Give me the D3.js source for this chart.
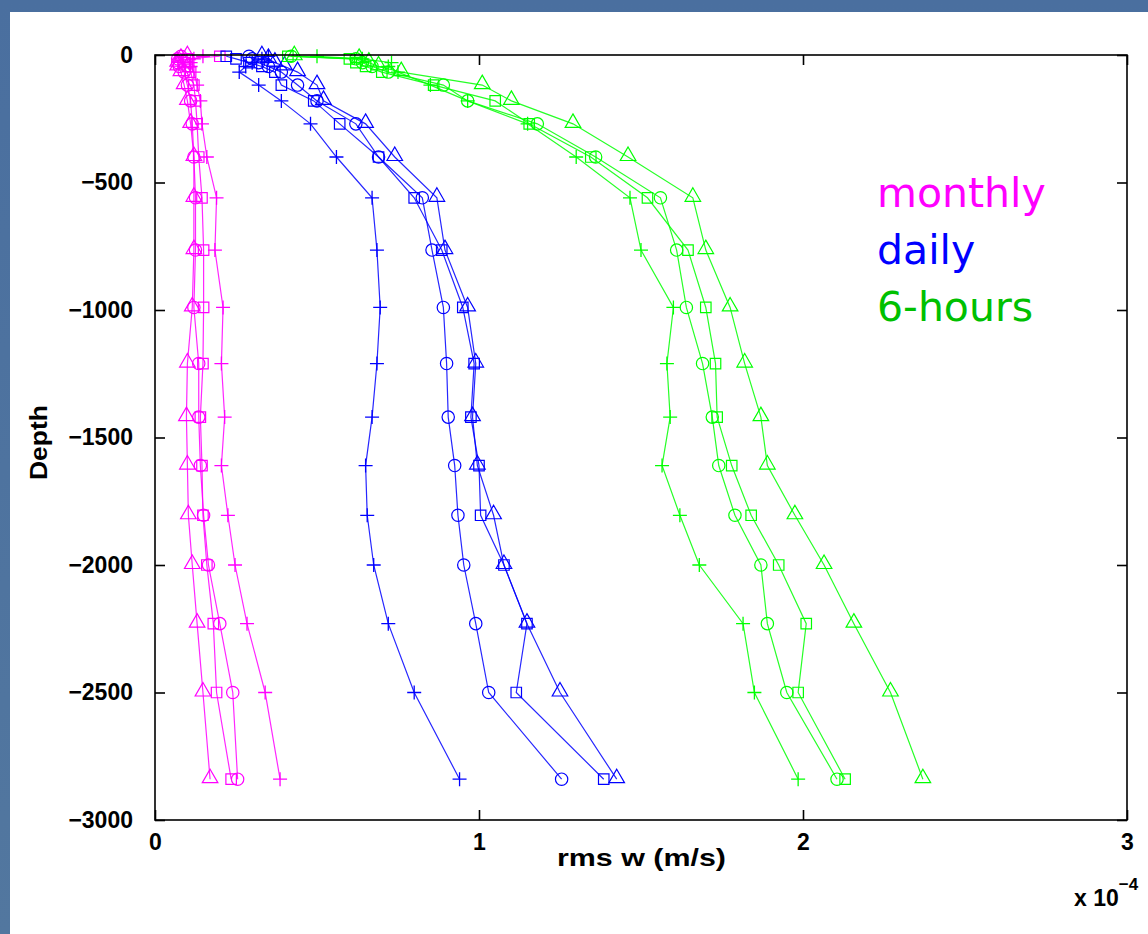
<!DOCTYPE html>
<html>
<head>
<meta charset="utf-8">
<script src="https://cdn.jsdelivr.net/npm/d3@7"></script>
<style>
  html, body { margin: 0; padding: 0; background: #4d70a0; }
  svg { display: block; }
</style>
</head>
<body>
<script>
// ---------- data (rms w in units of 1e-4 m/s) ----------
const depths = [-5, -15, -30, -45, -67, -118, -180, -270, -400, -560, -765, -990, -1210, -1420, -1610, -1805, -2000, -2230, -2500, -2840];

const monthlyCircle   = [0.08, 0.07, 0.07, 0.075, 0.09, 0.10, 0.11, 0.115, 0.12, 0.125, 0.125, 0.12, 0.135, 0.135, 0.14, 0.15, 0.165, 0.20, 0.24, 0.255];
const monthlySquare   = [0.20, 0.10, 0.09, 0.10, 0.11, 0.12, 0.125, 0.13, 0.135, 0.145, 0.15, 0.15, 0.148, 0.14, 0.145, 0.148, 0.16, 0.18, 0.19, 0.235];
const monthlyTriangle = [0.10, 0.08, 0.07, 0.07, 0.08, 0.09, 0.10, 0.11, 0.12, 0.12, 0.12, 0.115, 0.10, 0.097, 0.10, 0.103, 0.115, 0.13, 0.148, 0.17];
const monthlyPlus     = [0.148, 0.12, 0.11, 0.11, 0.12, 0.13, 0.14, 0.145, 0.16, 0.19, 0.185, 0.21, 0.205, 0.215, 0.205, 0.225, 0.247, 0.284, 0.34, 0.386];

const dailyCircle   = [0.29, 0.30, 0.32, 0.35, 0.39, 0.44, 0.50, 0.62, 0.69, 0.825, 0.855, 0.89, 0.90, 0.905, 0.925, 0.935, 0.953, 0.99, 1.03, 1.255];
const dailySquare   = [0.22, 0.25, 0.29, 0.33, 0.37, 0.39, 0.49, 0.57, 0.69, 0.80, 0.885, 0.95, 0.985, 0.975, 1.00, 1.005, 1.077, 1.148, 1.115, 1.385];
const dailyTriangle = [0.33, 0.35, 0.37, 0.40, 0.44, 0.50, 0.52, 0.65, 0.74, 0.87, 0.895, 0.965, 0.99, 0.98, 0.995, 1.045, 1.077, 1.148, 1.25, 1.425];
const dailyPlus     = [0.35, 0.33, 0.30, 0.28, 0.26, 0.32, 0.39, 0.48, 0.56, 0.67, 0.685, 0.695, 0.685, 0.67, 0.65, 0.655, 0.675, 0.72, 0.80, 0.94];

const sixhCircle   = [0.42, 0.62, 0.64, 0.67, 0.72, 0.89, 0.965, 1.18, 1.36, 1.56, 1.61, 1.64, 1.69, 1.72, 1.74, 1.79, 1.87, 1.89, 1.95, 2.105];
const sixhSquare   = [0.41, 0.60, 0.62, 0.65, 0.70, 0.86, 1.05, 1.155, 1.345, 1.52, 1.645, 1.70, 1.73, 1.735, 1.78, 1.84, 1.925, 2.01, 1.985, 2.13];
const sixhTriangle = [0.43, 0.63, 0.66, 0.69, 0.76, 1.01, 1.10, 1.29, 1.46, 1.66, 1.70, 1.775, 1.82, 1.87, 1.89, 1.975, 2.065, 2.157, 2.27, 2.37];
const sixhPlus     = [0.50, 0.64, 0.73, 0.72, 0.75, 0.85, 0.965, 1.15, 1.30, 1.466, 1.50, 1.60, 1.58, 1.59, 1.565, 1.62, 1.68, 1.815, 1.85, 1.985];

const xTicks = [0, 1, 2, 3];
const yTicks = [0, -500, -1000, -1500, -2000, -2500, -3000];
const legendLabels = ["monthly", "daily", "6-hours"];

(function () {
// ---------- layout ----------
const W = 1148, H = 934;
const pLeft = 155, pRight = 1127, pTop = 55, pBottom = 820;

const svg = d3.select("body").append("svg").attr("width", W).attr("height", H);

// slide background
const defs = svg.append("defs");
const grad = defs.append("linearGradient").attr("id", "bg").attr("x1", 0).attr("y1", 0).attr("x2", 0).attr("y2", 1);
grad.append("stop").attr("offset", "0%").attr("stop-color", "#4a6f9f");
grad.append("stop").attr("offset", "100%").attr("stop-color", "#52779f");
svg.append("rect").attr("width", W).attr("height", H).attr("fill", "url(#bg)");
svg.append("rect").attr("x", 10).attr("y", 12).attr("width", W - 10).attr("height", H - 12).attr("fill", "#ffffff");

const x = d3.scaleLinear().domain([0, 3]).range([pLeft, pRight]);
const y = d3.scaleLinear().domain([-3000, 0]).range([pBottom, pTop]);

const series = [
  { color: "#ff00ff", shape: "circle",   vals: monthlyCircle },
  { color: "#ff00ff", shape: "square",   vals: monthlySquare },
  { color: "#ff00ff", shape: "triangle", vals: monthlyTriangle },
  { color: "#ff00ff", shape: "plus",     vals: monthlyPlus },
  { color: "#0000ff", shape: "circle",   vals: dailyCircle },
  { color: "#0000ff", shape: "square",   vals: dailySquare },
  { color: "#0000ff", shape: "triangle", vals: dailyTriangle },
  { color: "#0000ff", shape: "plus",     vals: dailyPlus },
  { color: "#00ff00", shape: "circle",   vals: sixhCircle },
  { color: "#00ff00", shape: "square",   vals: sixhSquare },
  { color: "#00ff00", shape: "triangle", vals: sixhTriangle },
  { color: "#00ff00", shape: "plus",     vals: sixhPlus }
];

const symSize = { circle: 120, square: 110, triangle: 105, plus: 0 };
const line = d3.line().x(d => x(d[0])).y(d => y(d[1]));

const plot = svg.append("g");
series.forEach(s => {
  const pts = s.vals.map((v, i) => [v, depths[i]]);
  plot.append("path").datum(pts).attr("d", line)
    .attr("fill", "none").attr("stroke", s.color).attr("stroke-width", 1.2).attr("stroke-opacity", 0.85);
  const g = plot.append("g");
  pts.forEach(p => {
    const px = x(p[0]), py = y(p[1]);
    if (s.shape === "plus") {
      g.append("path").attr("d", `M${px - 7},${py}H${px + 7}M${px},${py - 7}V${py + 7}`)
        .attr("stroke", s.color).attr("stroke-width", 1.3).attr("fill", "none");
    } else {
      const type = s.shape === "circle" ? d3.symbolCircle : s.shape === "square" ? d3.symbolSquare : d3.symbolTriangle;
      g.append("path").attr("d", d3.symbol().type(type).size(symSize[s.shape])())
        .attr("transform", `translate(${px},${py + (s.shape === "triangle" ? -1 : 0)})`)
        .attr("fill", "none").attr("stroke", s.color).attr("stroke-width", 1.2);
    }
  });
});

// ---------- axes ----------
const axisG = svg.append("g");
axisG.append("rect").attr("x", pLeft).attr("y", pTop).attr("width", pRight - pLeft).attr("height", pBottom - pTop)
  .attr("fill", "none").attr("stroke", "#000").attr("stroke-width", 1.6);

const bAxis = d3.axisBottom(x).tickValues(xTicks).tickSize(-10).tickPadding(14).tickFormat(d3.format("d"));
const tAxis = d3.axisTop(x).tickValues(xTicks).tickSize(-10).tickFormat("");
const lAxis = d3.axisLeft(y).tickValues(yTicks).tickSize(-10).tickPadding(22).tickFormat(d => d < 0 ? "\u2212" + Math.abs(d) : String(d));
const rAxis = d3.axisRight(y).tickValues(yTicks).tickSize(-10).tickFormat("");

function styleAxis(g) {
  g.select(".domain").remove();
  g.selectAll(".tick line").attr("stroke", "#000").attr("stroke-width", 1.6);
  g.selectAll(".tick text").attr("fill", "#000")
    .style("font-family", "'Liberation Sans', Arial, sans-serif").style("font-weight", "bold").style("font-size", "23px");
}
axisG.append("g").attr("transform", `translate(0,${pBottom})`).call(bAxis).call(styleAxis);
axisG.append("g").attr("transform", `translate(0,${pTop})`).call(tAxis).call(styleAxis);
axisG.append("g").attr("transform", `translate(${pLeft},0)`).call(lAxis).call(styleAxis);
axisG.append("g").attr("transform", `translate(${pRight},0)`).call(rAxis).call(styleAxis);

const labFont = "'Liberation Sans', Arial, sans-serif";
svg.append("text").attr("x", 557).attr("y", 866)
  .attr("textLength", 169).attr("lengthAdjust", "spacingAndGlyphs")
  .style("font-family", labFont).style("font-weight", "bold").style("font-size", "24px").text("rms w (m/s)");
svg.append("text").attr("transform", `translate(47,480) rotate(-90)`)
  .attr("textLength", 75).attr("lengthAdjust", "spacingAndGlyphs")
  .style("font-family", labFont).style("font-weight", "bold").style("font-size", "24px").text("Depth");

const mult = svg.append("text").attr("x", 1074).attr("y", 906)
  .style("font-family", labFont).style("font-weight", "bold").style("font-size", "23px");
mult.append("tspan").text("x 10");
mult.append("tspan").attr("dy", -16).style("font-size", "17px").text("\u22124");

// ---------- legend text ----------
const legColors = ["#ff00ff", "#0000ff", "#00c000"];
legendLabels.forEach((t, i) => {
  svg.append("text").attr("x", 877).attr("y", 207 + i * 57)
    .attr("fill", legColors[i])
    .style("font-family", "'DejaVu Sans', Verdana, sans-serif").style("font-size", "41px").text(t);
});
})();
</script>
</body>
</html>
